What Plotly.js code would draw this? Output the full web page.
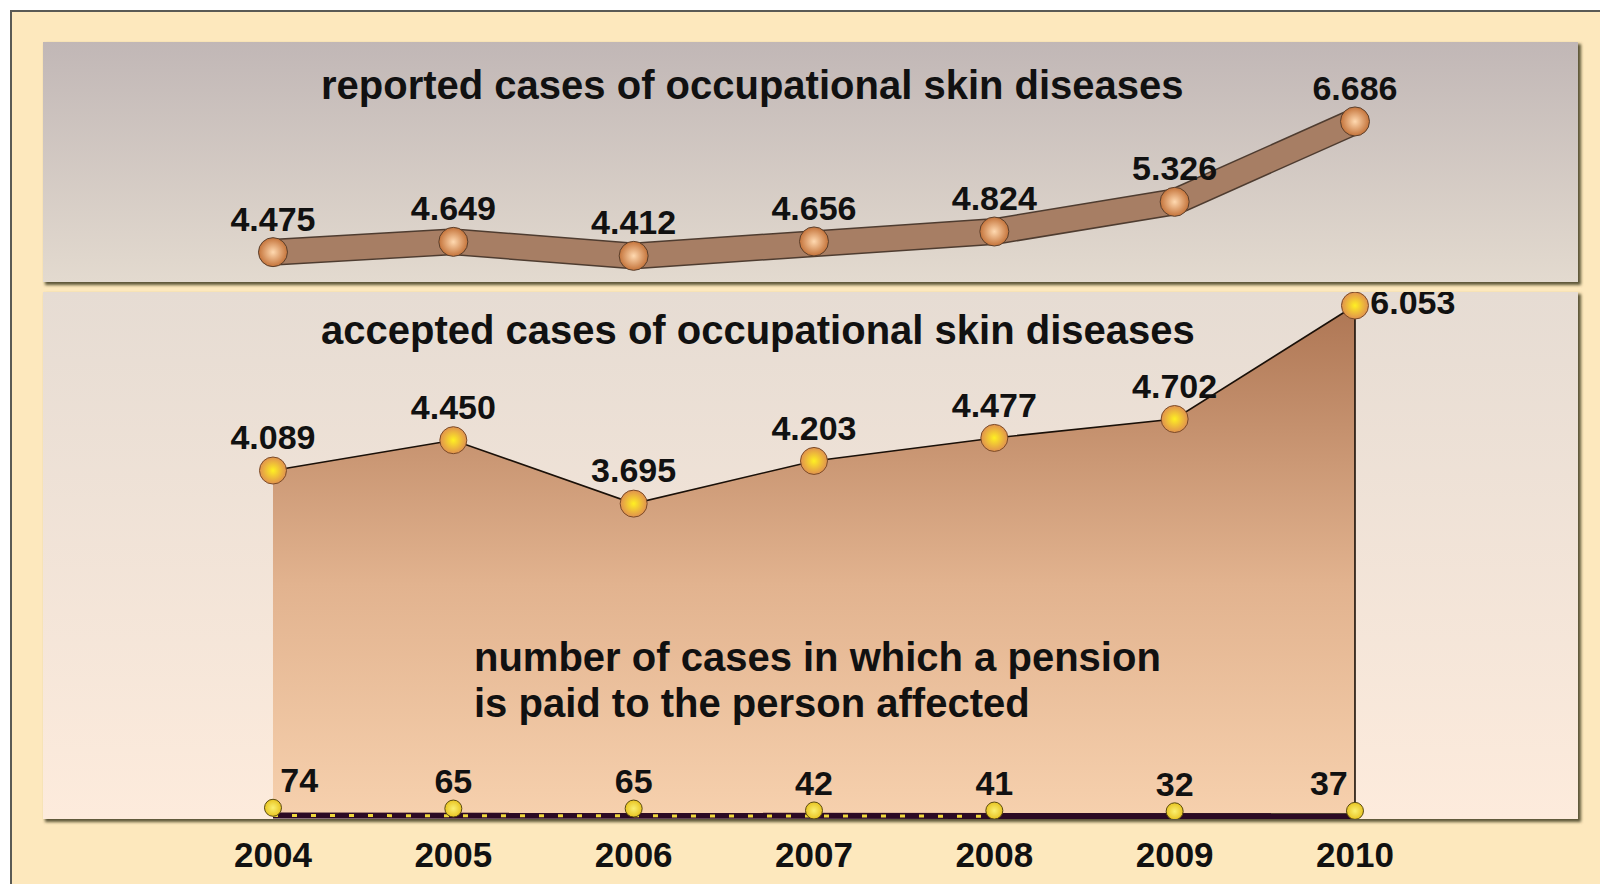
<!DOCTYPE html>
<html>
<head>
<meta charset="utf-8">
<script src="https://cdn.plot.ly/plotly-3.0.1.min.js"></script>
<style>html,body{margin:0;padding:0;background:#fff;}#chart{width:1600px;height:884px;}</style>
</head>
<body>
<div id="chart"></div>
<script>
// ---- data ----
const years = [2004, 2005, 2006, 2007, 2008, 2009, 2010];
const reported = [4.475, 4.649, 4.412, 4.656, 4.824, 5.326, 6.686];
const accepted = [4.089, 4.450, 3.695, 4.203, 4.477, 4.702, 6.053];
const pension = [74, 65, 65, 42, 41, 32, 37];
const yearLabels = ['2004', '2005', '2006', '2007', '2008', '2009', '2010'];

// ---- styling helpers ----
const FONT = 'Liberation Sans, Arial, Helvetica, sans-serif';
const reportedText = reported.map(v => v.toFixed(3));
const acceptedText = accepted.map(v => v.toFixed(3));
const pensionText = pension.map(v => String(v));
const acceptedPos = ['top center','top center','top center','top center','top center','top center','middle right'];
const acceptedLabelGap = [19, 19, 19, 19, 19, 19, 23];
const pensionPos = ['top right','top center','top center','top center','top center','top center','top left'];
const labelFont = {family: FONT, size: 34, color: '#111111', weight: 'bold'};
const clearMarker = s => ({size: s, color: 'rgba(0,0,0,0)', line: {width: 0}});

// closed outline of the accepted area (baseline = axis zero)
const polyX = years.concat([years[years.length - 1], years[0]]);
const polyY = accepted.concat([0, 0]);

// ---- background (frame + panels) as SVG image ----
const bgSvg = `<svg xmlns="http://www.w3.org/2000/svg" width="1600" height="884" viewBox="0 0 1600 884">
<defs>
<linearGradient id="g1" x1="0" y1="0" x2="0" y2="1">
<stop offset="0" stop-color="#c1b7b6"/><stop offset="1" stop-color="#e3dacf"/></linearGradient>
<linearGradient id="g2" x1="0" y1="0" x2="0" y2="1">
<stop offset="0" stop-color="#e6dcd3"/><stop offset="1" stop-color="#fdebdc"/></linearGradient>
<filter id="b" x="-5%" y="-5%" width="110%" height="110%"><feGaussianBlur stdDeviation="1.5"/></filter>
</defs>
<rect x="0" y="0" width="1600" height="884" fill="#ffffff"/>
<rect x="11" y="11" width="1620" height="900" fill="#fde8bd" stroke="#5a5a55" stroke-width="2"/>
<rect x="45" y="44" width="1536" height="241" fill="#5b5535" filter="url(#b)"/>
<rect x="43" y="42" width="1535" height="240" fill="url(#g1)"/>
<rect x="45" y="294" width="1536" height="528" fill="#5b5535" filter="url(#b)"/>
<rect x="43" y="292" width="1535" height="527" fill="url(#g2)"/>
</svg>`;
const bgSrc = 'data:image/svg+xml;charset=utf-8,' + encodeURIComponent(bgSvg);

// ---- traces ----
const traces = [
  // reported: dark edge band
  {x: years, y: reported, xaxis: 'x', yaxis: 'y', mode: 'lines',
   line: {color: '#4e3c30', width: 27}, hoverinfo: 'skip', showlegend: false},
  // reported: brown band
  {x: years, y: reported, xaxis: 'x', yaxis: 'y', mode: 'lines',
   line: {color: '#a77e64', width: 24}, hoverinfo: 'skip', showlegend: false},
  // reported markers
  {x: years, y: reported, xaxis: 'x', yaxis: 'y', mode: 'markers',
   marker: {size: 29, color: '#c4733a', gradient: {type: 'radial', color: '#ffd9b0'},
            line: {color: '#5a3f2c', width: 1}},
   showlegend: false, name: 'reported'},
  // reported labels
  {x: years, y: reported, xaxis: 'x', yaxis: 'y', mode: 'markers+text',
   text: reportedText, textposition: 'top center', textfont: labelFont,
   marker: clearMarker(19), hoverinfo: 'skip', showlegend: false},

  // accepted area
  {x: polyX, y: polyY, xaxis: 'x2', yaxis: 'y2', mode: 'lines', fill: 'toself',
   fillgradient: {type: 'vertical', start: 0, stop: 6.053,
     colorscale: [[0, '#f6d0ad'], [0.45, '#e2b38f'], [1, '#ae7654']]},
   line: {color: '#1a1008', width: 1.6}, hoverinfo: 'skip', showlegend: false},
  // accepted markers
  {x: years, y: accepted, xaxis: 'x2', yaxis: 'y2', mode: 'markers',
   marker: {size: 27, color: '#e0914e', gradient: {type: 'radial', color: '#fff022'},
            line: {color: '#7a4a28', width: 1}},
   showlegend: false, name: 'accepted'},
  // accepted labels
  {x: years, y: accepted, xaxis: 'x2', yaxis: 'y2', mode: 'markers+text',
   text: acceptedText, textposition: acceptedPos, textfont: labelFont,
   marker: clearMarker(acceptedLabelGap), hoverinfo: 'skip', showlegend: false},

  // pension dark baseline line (flat scale)
  {x: years, y: pension, xaxis: 'x2', yaxis: 'y3', mode: 'lines',
   line: {color: '#2c0a24', width: 6}, hoverinfo: 'skip', showlegend: false},
  // pension dotted yellow overlay
  {x: years.slice(0, 5), y: pension.slice(0, 5), xaxis: 'x2', yaxis: 'y3', mode: 'lines',
   line: {color: '#f0d83c', width: 3, dash: '5px,14px'}, hoverinfo: 'skip', showlegend: false},
  // pension markers
  {x: years, y: pension, xaxis: 'x2', yaxis: 'y4', mode: 'markers',
   marker: {size: 17, color: '#e8c422', gradient: {type: 'radial', color: '#fbf070'},
            line: {color: '#5a4a10', width: 1}},
   showlegend: false, name: 'pension'},
  // pension labels
  {x: years, y: pension, xaxis: 'x2', yaxis: 'y4', mode: 'markers+text',
   text: pensionText, textposition: pensionPos, textfont: labelFont,
   marker: clearMarker(10), hoverinfo: 'skip', showlegend: false}
];

const xDomain = [43 / 1600, 1578 / 1600];
const xRange = [2002.7246, 2011.2367];
const y2Domain = [(884 - 819) / 884, (884 - 292) / 884];

const layout = {
  width: 1600, height: 884,
  margin: {l: 0, r: 0, t: 0, b: 0},
  paper_bgcolor: '#ffffff',
  plot_bgcolor: 'rgba(0,0,0,0)',
  showlegend: false,
  images: [{source: bgSrc, xref: 'paper', yref: 'paper', x: 0, y: 1, sizex: 1, sizey: 1,
            xanchor: 'left', yanchor: 'top', sizing: 'stretch', layer: 'below'}],
  xaxis: {domain: xDomain, range: xRange, anchor: 'y', visible: false, fixedrange: true},
  yaxis: {domain: [(884 - 282) / 884, (884 - 42) / 884], range: [3.97, 8.03], anchor: 'x',
          visible: false, fixedrange: true},
  xaxis2: {domain: xDomain, range: xRange, anchor: 'y2', showgrid: false, zeroline: false,
           showline: false, ticks: '', tickmode: 'array', tickvals: years, ticktext: yearLabels,
           ticklabelstandoff: 12,
           tickfont: {family: FONT, size: 35, color: '#111111', weight: 'bold'}, fixedrange: true},
  yaxis2: {domain: y2Domain, range: [-0.0595, 6.2143], anchor: 'x2',
           visible: false, fixedrange: true},
  yaxis3: {overlaying: 'y2', range: [-100, 26250], anchor: 'x2', visible: false, fixedrange: true},
  yaxis4: {overlaying: 'y2', range: [-59.5, 6214.3], anchor: 'x2', visible: false, fixedrange: true},
  annotations: [
    {text: 'reported cases of occupational skin diseases', xref: 'paper', yref: 'paper',
     x: 319 / 1600, y: 1 - 85 / 884, xanchor: 'left', yanchor: 'middle', showarrow: false,
     font: {family: FONT, size: 40, color: '#111111', weight: 'bold'}},
    {text: 'accepted cases of occupational skin diseases', xref: 'paper', yref: 'paper',
     x: 319 / 1600, y: 1 - 330 / 884, xanchor: 'left', yanchor: 'middle', showarrow: false,
     font: {family: FONT, size: 40, color: '#111111', weight: 'bold'}},
    {text: 'number of cases in which a pension', xref: 'paper', yref: 'paper',
     x: 472 / 1600, y: 1 - 657 / 884, xanchor: 'left', yanchor: 'middle', showarrow: false,
     font: {family: FONT, size: 40, color: '#111111', weight: 'bold'}},
    {text: 'is paid to the person affected', xref: 'paper', yref: 'paper',
     x: 472 / 1600, y: 1 - 703 / 884, xanchor: 'left', yanchor: 'middle', showarrow: false,
     font: {family: FONT, size: 40, color: '#111111', weight: 'bold'}}
  ]
};

Plotly.newPlot('chart', traces, layout, {displayModeBar: false, staticPlot: true});
</script>
</body>
</html>
